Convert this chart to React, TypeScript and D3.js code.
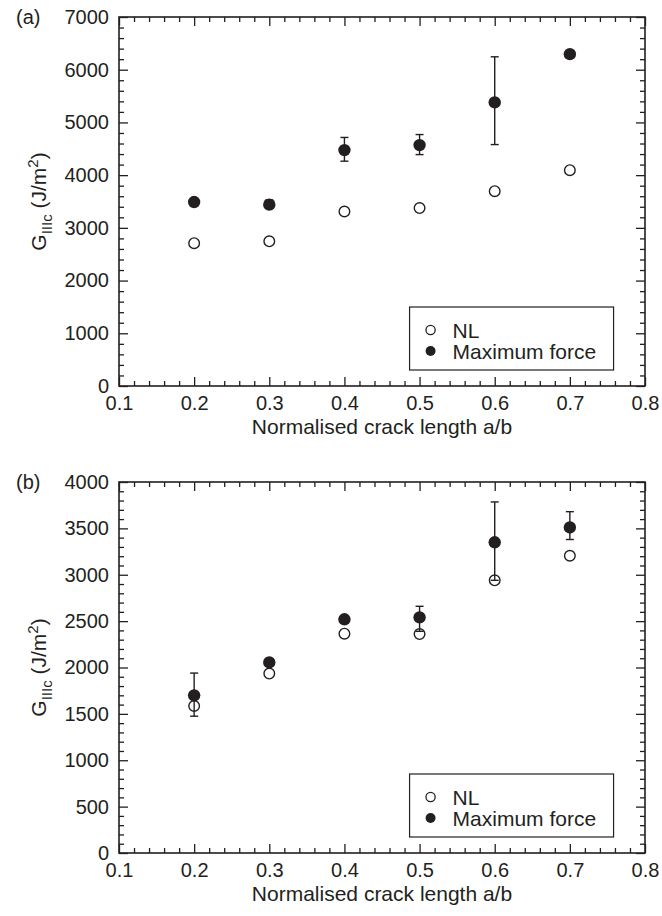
import React, { useRef, useEffect } from "react";
import * as d3 from "d3";

// crack length a/b
const crackLength = [0.2, 0.3, 0.4, 0.5, 0.6, 0.7];

// panel (a)
const nlA = [2710, 2745, 3310, 3375, 3695, 4095];
const maxA = [3490, 3440, 4475, 4570, 5380, 6295];
const maxALow = [null, 3370, 4265, 4390, 4580, null];
const maxAHigh = [null, 3530, 4715, 4770, 6245, null];

// panel (b)
const nlB = [1585, 1935, 2365, 2360, 2940, 3205];
const maxB = [1700, 2055, 2520, 2540, 3350, 3510];
const maxBLow = [1475, null, null, 2390, 2940, 3380];
const maxBHigh = [1940, null, null, 2660, 3785, 3680];

const xTicks = [0.1, 0.2, 0.3, 0.4, 0.5, 0.6, 0.7, 0.8];
const yTicksA = [0, 1000, 2000, 3000, 4000, 5000, 6000, 7000];
const yTicksB = [0, 500, 1000, 1500, 2000, 2500, 3000, 3500, 4000];

const legendLabels = ["NL", "Maximum force"];

const INK = "#231f20";
const FONT = "'Liberation Sans', Arial, Helvetica, sans-serif";

function drawPanel(svg, opts) {
  const { top, bottom, left, right, yMax, yTicks, yMinorStep, nl, mx, lo, hi, tag } = opts;
  const x = d3.scaleLinear().domain([0.1, 0.8]).range([left, right]);
  const y = d3.scaleLinear().domain([0, yMax]).range([bottom, top]);
  const g = svg.append("g");

  const xMinor = d3.range(0.1, 0.8001, 0.02).filter(v => Math.abs(v * 10 - Math.round(v * 10)) > 1e-6);
  const yMinor = d3.range(0, yMax + 1, yMinorStep).filter(v => !yTicks.includes(v));

  const styleAxis = sel => {
    sel.select(".domain").remove();
    sel.selectAll("line").attr("stroke", INK).attr("stroke-width", 1.3);
    sel.selectAll("text").attr("fill", INK).style("font-family", FONT).style("font-size", "20px");
  };

  // bottom
  g.append("g").attr("transform", `translate(0,${bottom})`)
    .call(d3.axisBottom(x).tickValues(xTicks).tickSizeInner(-9).tickSizeOuter(0).tickPadding(10).tickFormat(d3.format(".1f")))
    .call(styleAxis);
  g.append("g").attr("transform", `translate(0,${bottom})`)
    .call(d3.axisBottom(x).tickValues(xMinor).tickSizeInner(-5).tickSizeOuter(0).tickFormat(() => ""))
    .call(styleAxis);
  // top
  g.append("g").attr("transform", `translate(0,${top})`)
    .call(d3.axisTop(x).tickValues(xTicks).tickSizeInner(-9).tickSizeOuter(0).tickFormat(() => ""))
    .call(styleAxis);
  g.append("g").attr("transform", `translate(0,${top})`)
    .call(d3.axisTop(x).tickValues(xMinor).tickSizeInner(-5).tickSizeOuter(0).tickFormat(() => ""))
    .call(styleAxis);
  // left
  g.append("g").attr("transform", `translate(${left},0)`)
    .call(d3.axisLeft(y).tickValues(yTicks).tickSizeInner(-9).tickSizeOuter(0).tickPadding(10).tickFormat(d3.format("d")))
    .call(styleAxis);
  g.append("g").attr("transform", `translate(${left},0)`)
    .call(d3.axisLeft(y).tickValues(yMinor).tickSizeInner(-5).tickSizeOuter(0).tickFormat(() => ""))
    .call(styleAxis);
  // right
  g.append("g").attr("transform", `translate(${right},0)`)
    .call(d3.axisRight(y).tickValues(yTicks).tickSizeInner(-9).tickSizeOuter(0).tickFormat(() => ""))
    .call(styleAxis);
  g.append("g").attr("transform", `translate(${right},0)`)
    .call(d3.axisRight(y).tickValues(yMinor).tickSizeInner(-5).tickSizeOuter(0).tickFormat(() => ""))
    .call(styleAxis);

  // frame
  g.append("rect").attr("x", left).attr("y", top).attr("width", right - left).attr("height", bottom - top)
    .attr("fill", "none").attr("stroke", INK).attr("stroke-width", 1.6);

  // error bars on maximum force
  const eb = crackLength.map((c, i) => ({ c, lo: lo[i], hi: hi[i] })).filter(d => d.lo != null);
  const ebg = g.append("g").attr("stroke", INK).attr("stroke-width", 1.4);
  ebg.selectAll(".v").data(eb).join("line")
    .attr("x1", d => x(d.c)).attr("x2", d => x(d.c)).attr("y1", d => y(d.lo)).attr("y2", d => y(d.hi));
  ebg.selectAll(".t").data(eb).join("line")
    .attr("x1", d => x(d.c) - 4).attr("x2", d => x(d.c) + 4).attr("y1", d => y(d.hi)).attr("y2", d => y(d.hi));
  ebg.selectAll(".b").data(eb).join("line")
    .attr("x1", d => x(d.c) - 4).attr("x2", d => x(d.c) + 4).attr("y1", d => y(d.lo)).attr("y2", d => y(d.lo));

  // NL open circles
  g.append("g").selectAll("circle").data(crackLength).join("circle")
    .attr("cx", d => x(d)).attr("cy", (d, i) => y(nl[i])).attr("r", 5.3)
    .attr("fill", "none").attr("stroke", INK).attr("stroke-width", 1.4);
  // maximum force filled circles
  g.append("g").selectAll("circle").data(crackLength).join("circle")
    .attr("cx", d => x(d)).attr("cy", (d, i) => y(mx[i])).attr("r", 6.2)
    .attr("fill", INK);

  // legend
  const lx = x(0.5) - 10;
  const lg = g.append("g");
  lg.append("rect").attr("x", lx).attr("y", bottom - 79).attr("width", 204).attr("height", 63)
    .attr("fill", "#fff").attr("stroke", INK).attr("stroke-width", 1.2);
  legendLabels.forEach((lab, i) => {
    const cy = bottom - 56 + i * 21;
    if (i === 0) {
      lg.append("circle").attr("cx", lx + 21).attr("cy", cy).attr("r", 4.6)
        .attr("fill", "none").attr("stroke", INK).attr("stroke-width", 1.3);
    } else {
      lg.append("circle").attr("cx", lx + 21).attr("cy", cy).attr("r", 5).attr("fill", INK);
    }
    lg.append("text").attr("x", lx + 43).attr("y", cy + 7.5).text(lab)
      .attr("fill", INK).style("font-family", FONT).style("font-size", "21px");
  });

  // x title
  g.append("text").attr("x", (left + right) / 2).attr("y", bottom + 48).attr("text-anchor", "middle")
    .attr("fill", INK).style("font-family", FONT).style("font-size", "21px")
    .text("Normalised crack length a/b");

  // y title
  const yt = g.append("text")
    .attr("transform", `translate(46,${(top + bottom) / 2}) rotate(-90)`)
    .attr("text-anchor", "middle").attr("fill", INK)
    .style("font-family", FONT).style("font-size", "21px");
  yt.append("tspan").text("G");
  yt.append("tspan").attr("dy", 6).style("font-size", "15px").text("IIIc");
  yt.append("tspan").attr("dy", -6).text(" (J/m");
  yt.append("tspan").attr("dy", -8).style("font-size", "15px").text("2");
  yt.append("tspan").attr("dy", 8).text(")");

  // panel tag
  g.append("text").attr("x", 16).attr("y", top + 7).attr("fill", INK)
    .style("font-family", FONT).style("font-size", "20px").text(tag);
}

export default function App() {
  const svgRef = useRef(null);

  useEffect(() => {
    const svg = d3.select(svgRef.current);
    svg.selectAll("*").remove();
    svg.append("rect").attr("width", 662).attr("height", 916).attr("fill", "#fff");
    drawPanel(svg, {
      top: 17, bottom: 386, left: 119, right: 645, yMax: 7000, yTicks: yTicksA, yMinorStep: 200,
      nl: nlA, mx: maxA, lo: maxALow, hi: maxAHigh, tag: "(a)",
    });
    drawPanel(svg, {
      top: 482, bottom: 853, left: 119, right: 645, yMax: 4000, yTicks: yTicksB, yMinorStep: 100,
      nl: nlB, mx: maxB, lo: maxBLow, hi: maxBHigh, tag: "(b)",
    });
  }, []);

  return (
    <svg ref={svgRef} width={662} height={916}
      style={{ position: "absolute", left: 0, top: 0, display: "block" }} />
  );
}
